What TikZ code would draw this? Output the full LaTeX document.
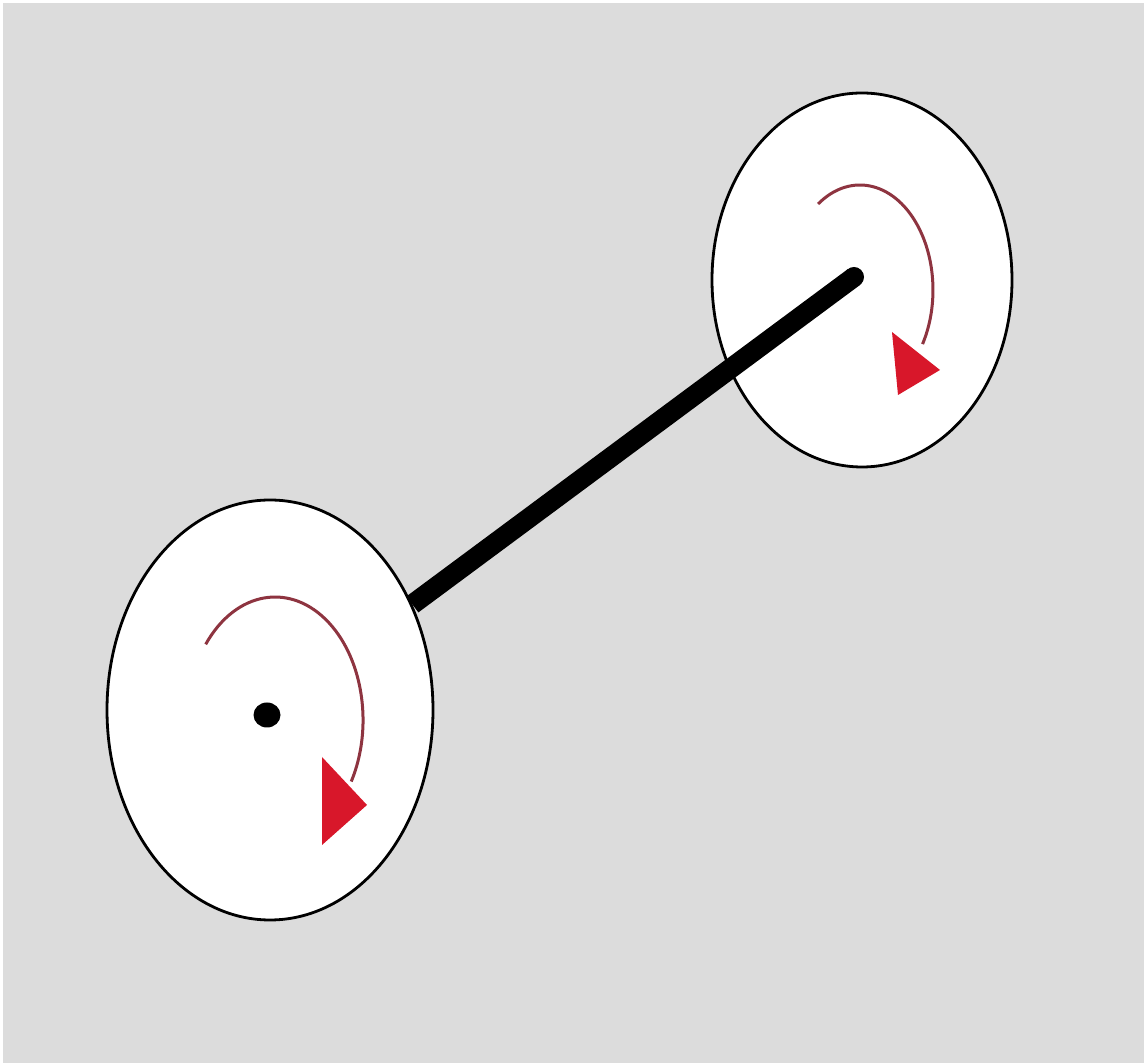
\documentclass[tikz,border=0pt]{standalone}
\usetikzlibrary{shapes.geometric}
\definecolor{bggray}{HTML}{DCDCDC}
\definecolor{arcred}{HTML}{8E3440}
\definecolor{tipred}{HTML}{D8172A}
\begin{document}
\begin{tikzpicture}[x=1pt,y=1pt,
  disc/.style={ellipse, draw=black, line width=2.8pt, fill=white, inner sep=0pt},
  spin/.style={draw=arcred, line width=3pt},
  tip/.style={fill=tipred},
  rod/.style={line width=20pt, draw=black}]
\fill[white] (0,0) rectangle (1144,1063);
\fill[bggray] (3,0) rectangle (1144,1060);
\useasboundingbox (0,0) rectangle (1144,1063);
% wheels
\node[disc, minimum width=300pt, minimum height=374pt] (R) at (862,783) {};
\node[disc, minimum width=326pt, minimum height=420pt] (L) at (270,353) {};
% rod
\coordinate (hubR) at (854,786);
\draw[rod] (hubR) -- (L);
\fill (hubR) circle (10pt);
% axle dot
\node[ellipse, fill=black, minimum width=27pt, minimum height=25pt, inner sep=0pt] (dot) at (267,348) {};
% rotation arrows
\coordinate (arcRstart) at (818.1,859);
\coordinate (arcLstart) at (205.7,418.7);
\draw[spin] (arcRstart) arc[start angle=125, end angle=-31, x radius=73, y radius=105];
\fill[tip] (892,731) -- (940,693) -- (898,668) -- cycle;
\draw[spin] (arcLstart) arc[start angle=142, end angle=-30, x radius=88, y radius=123];
\fill[tip] (322,306) -- (367,258) -- (322,218) -- cycle;
\end{tikzpicture}
\end{document}
